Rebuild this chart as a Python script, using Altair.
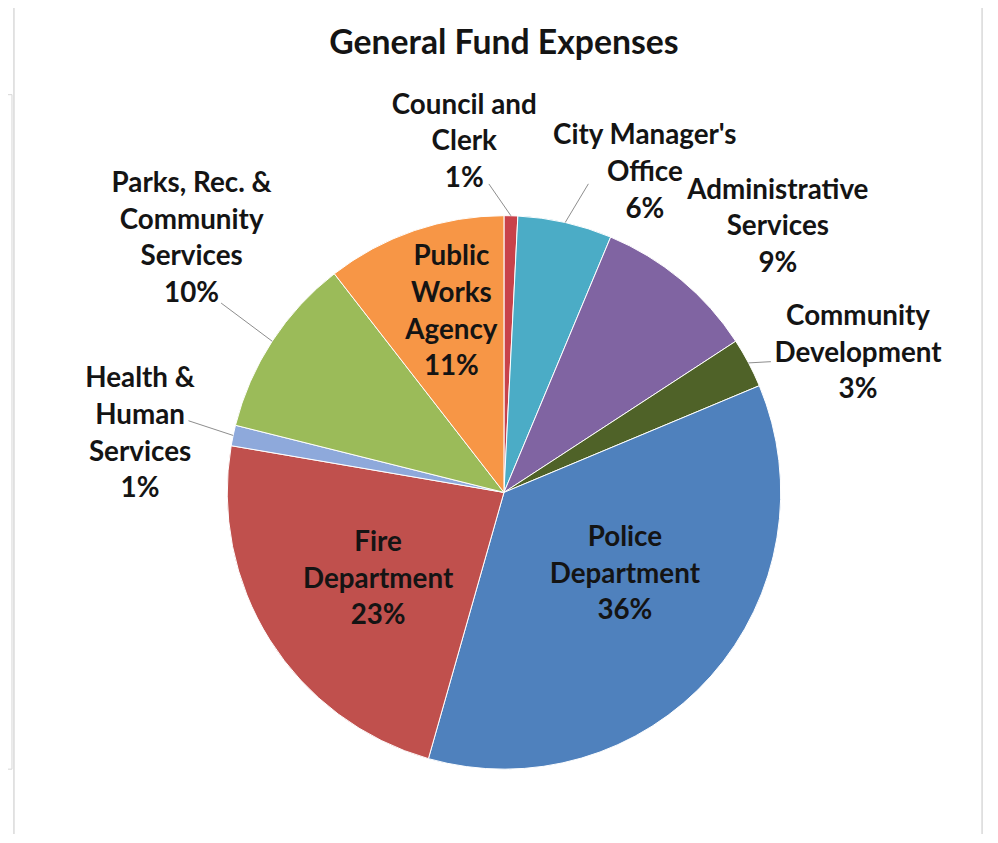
import math
import altair as alt
import pandas as pd

# ---------------- data ----------------
departments = [
    "Council and\nClerk",
    "City Manager's\nOffice",
    "Administrative\nServices",
    "Community\nDevelopment",
    "Police\nDepartment",
    "Fire\nDepartment",
    "Health &\nHuman\nServices",
    "Parks, Rec. &\nCommunity\nServices",
    "Public\nWorks\nAgency",
]
shares = [0.8, 5.5, 9.5, 2.9, 35.7, 23.3, 1.2, 10.6, 10.5]
pct_labels = ["1%", "6%", "9%", "3%", "36%", "23%", "1%", "10%", "11%"]
colors = ["#C8424A", "#4BACC6", "#8064A2", "#4F6228", "#4F81BD",
          "#C0504D", "#8EA9DB", "#9BBB59", "#F79646"]

# label placement of the first text line (angle in degrees clockwise from 12 o'clock,
# radius as a fraction of the pie radius)
label_angle = [354.14, 21.58, 42.24, 63.63, 110.66, 248.1, 287.26, 314.63, 347.4]
label_radius = [1.405, 1.384, 1.472, 1.428, 0.467, 0.490, 1.377, 1.586, 0.871]

# leader lines: start near the label (angle, radius fraction); they end on the slice edge
leader_dept = [0, 1, 3, 6, 7]
leader_angle = [357.2, 15.3, 63.9, 282.8, 303.8]
leader_radius = [1.116, 1.156, 1.074, 1.169, 1.230]

TITLE = "General Fund Expenses"

# ---------------- layout ----------------
W, H = 990, 826
CX, CY, R = 500, 485, 279
FONT = "Lato"

df = pd.DataFrame({
    "idx": list(range(len(departments))),
    "dept": departments,
    "share": shares,
    "label": [d + "\n" + p for d, p in zip(departments, pct_labels)],
    "lab_angle": label_angle,
    "lab_r": label_radius,
})

cum = 0.0
mids = []
total = sum(shares)
for s in shares:
    mids.append((cum + s / 2) / total * 360.0)
    cum += s


def px(angle, r):
    a = math.radians(angle)
    return CX + R * r * math.sin(a), CY - R * r * math.cos(a)


rows = []
for i, a, r in zip(leader_dept, leader_angle, leader_radius):
    x1, y1 = px(a, r)
    x2, y2 = px(mids[i], 1.0)
    rows.append({"x1": x1, "y1": y1, "x2": x2, "y2": y2})
leader_df = pd.DataFrame(rows)

frame = alt.Chart(pd.DataFrame({"k": [0]})).mark_rect(
    filled=False, stroke="#CFCFCF", strokeWidth=1.2
).encode(x=alt.value(6), x2=alt.value(982), y=alt.value(-20), y2=alt.value(845))

side_box = alt.Chart(pd.DataFrame({"k": [0]})).mark_rect(
    filled=False, stroke="#D6D6D6", strokeWidth=1
).encode(x=alt.value(-20), x2=alt.value(4), y=alt.value(84), y2=alt.value(764))

pie = alt.Chart(df).mark_arc(
    outerRadius=R, stroke="#FFFFFF", strokeWidth=1
).encode(
    theta=alt.Theta("share:Q", stack=True),
    color=alt.Color("dept:N", scale=alt.Scale(domain=departments, range=colors), legend=None),
    order=alt.Order("idx:Q"),
    x=alt.value(CX),
    y=alt.value(CY),
)

labels = alt.Chart(df).mark_text(
    font=FONT, fontWeight="bold", fontSize=28, lineBreak="\n", lineHeight=37,
    align="center", baseline="middle", color="#141414",
).encode(
    theta=alt.Theta("lab_angle:Q", stack=False,
                    scale=alt.Scale(domain=[0, 360], range=[0, 2 * math.pi])),
    radius=alt.Radius("lab_r:Q", scale=alt.Scale(type="linear", domain=[0, 1], range=[0, R])),
    text="label:N",
    x=alt.value(CX),
    y=alt.value(CY),
)

leaders = alt.Chart(leader_df).mark_rule(color="#8C8C8C", strokeWidth=1).encode(
    x=alt.X("x1:Q", scale=alt.Scale(domain=[0, W], nice=False, zero=False), axis=None),
    y=alt.Y("y1:Q", scale=alt.Scale(domain=[0, H], nice=False, zero=False, reverse=True), axis=None),
    x2="x2:Q",
    y2="y2:Q",
)

title = alt.Chart(pd.DataFrame({"t": [TITLE]})).mark_text(
    font=FONT, fontWeight="bold", fontSize=34, align="center", baseline="middle", color="#141414"
).encode(text="t:N", x=alt.value(CX), y=alt.value(33))

chart = alt.layer(frame, side_box, pie, leaders, labels, title).resolve_scale(
    theta="independent"
).properties(
    width=W, height=H, padding=0, autosize=alt.AutoSizeParams(type="none"),
    background="white",
).configure_view(stroke=None)

chart.save("out.html", embed_options={"renderer": "svg", "actions": False})
